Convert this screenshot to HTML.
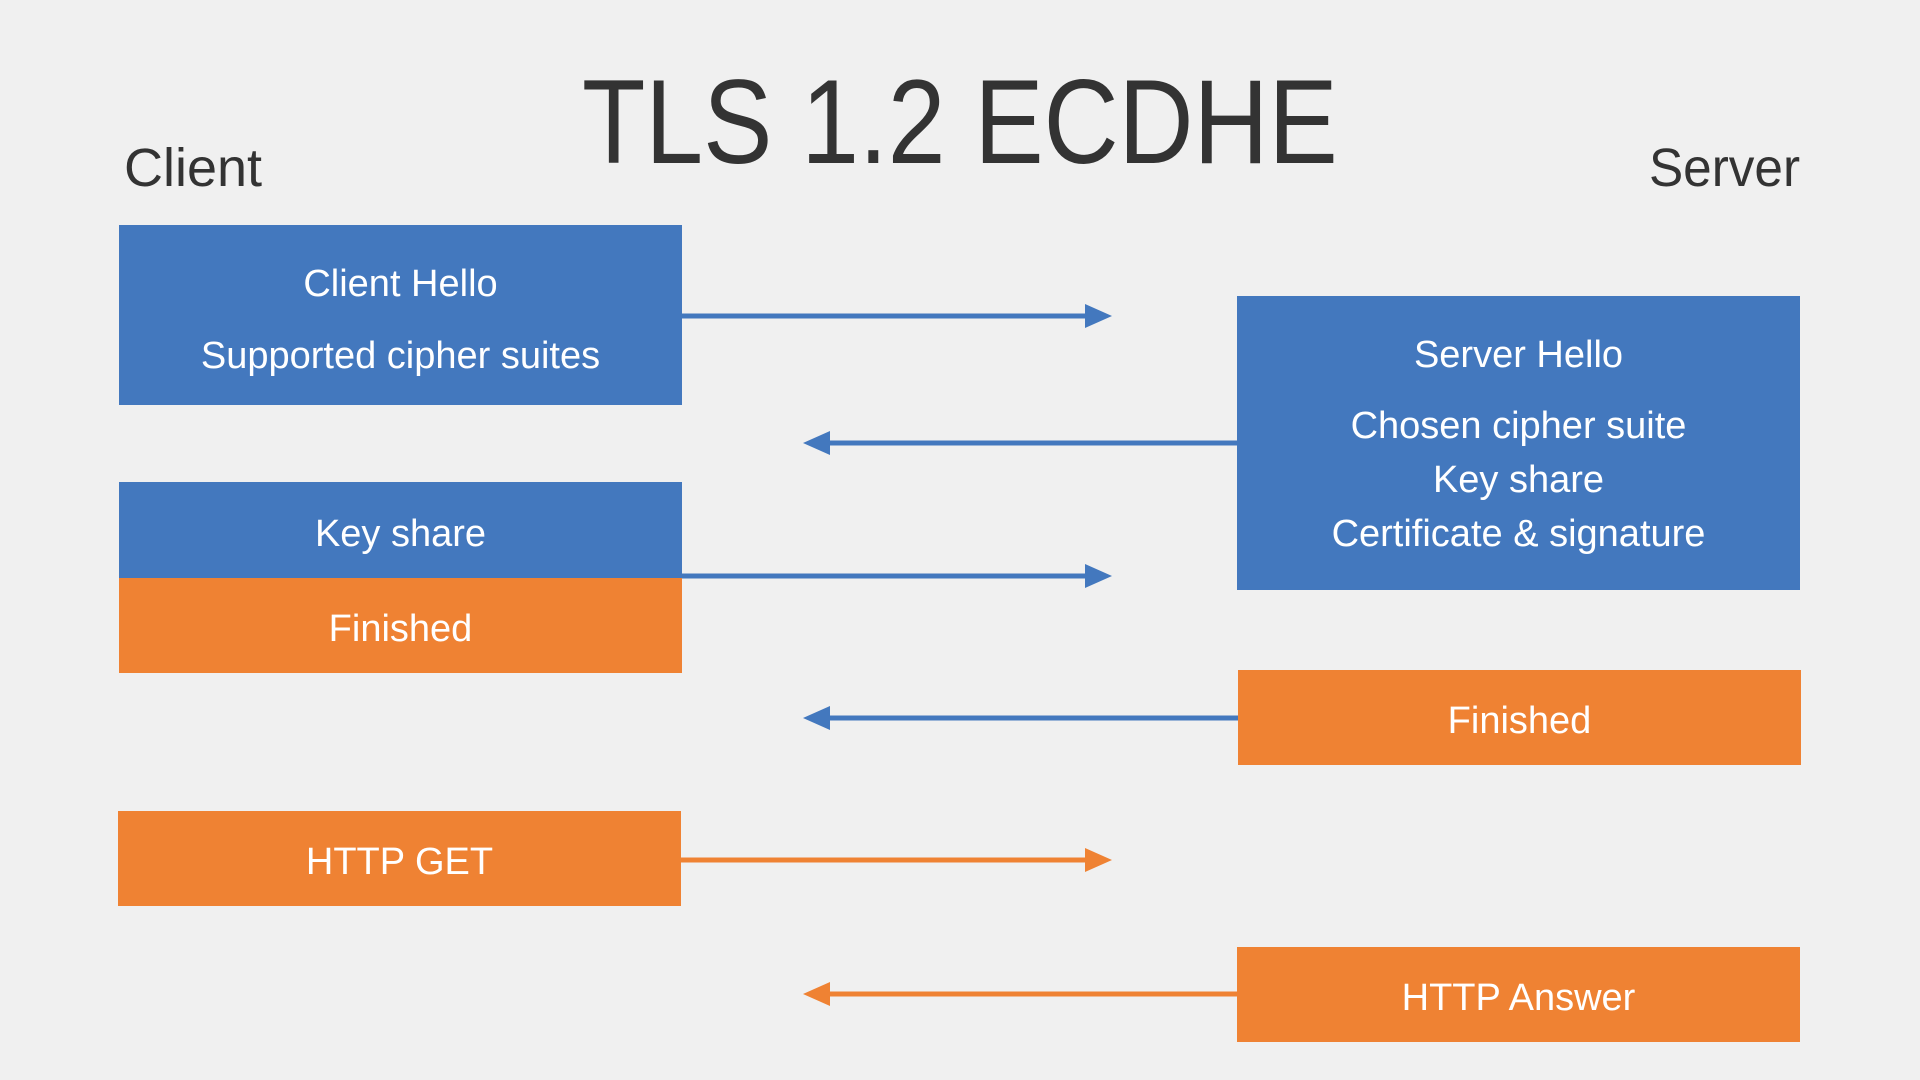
<!DOCTYPE html>
<html><head><meta charset="utf-8"><style>
html,body{margin:0;padding:0;}
body{width:1920px;height:1080px;background:#f0f0f0;position:relative;overflow:hidden;font-family:"Liberation Sans",sans-serif;}
.t{position:absolute;color:#333;white-space:nowrap;}
.b{position:absolute;color:#fff;}
.blue{background:#4378be;}
.or{background:#ef8233;}
.l{position:absolute;left:0;right:0;text-align:center;font-size:38px;line-height:40px;color:#fff;}
</style></head><body>
<div class="t" style="left:582px;top:52px;font-size:120px;line-height:140px;transform:scaleX(0.865);transform-origin:0 0;">TLS 1.2 ECDHE</div>
<div class="t" style="left:124px;top:136px;font-size:54px;line-height:64px;">Client</div>
<div class="t" style="right:120px;top:136px;font-size:54px;line-height:64px;transform:scaleX(0.95);transform-origin:100% 0;">Server</div>

<div class="b blue" style="left:119px;top:225px;width:563px;height:180px;">
 <div class="l" style="top:39px;">Client Hello</div>
 <div class="l" style="top:111px;">Supported cipher suites</div>
</div>
<div class="b blue" style="left:119px;top:482px;width:563px;height:96px;">
 <div class="l" style="top:32px;">Key share</div>
</div>
<div class="b or" style="left:119px;top:578px;width:563px;height:95px;">
 <div class="l" style="top:31px;">Finished</div>
</div>
<div class="b or" style="left:118px;top:811px;width:563px;height:95px;">
 <div class="l" style="top:31px;">HTTP GET</div>
</div>

<div class="b blue" style="left:1237px;top:296px;width:563px;height:294px;">
 <div class="l" style="top:39px;">Server Hello</div>
 <div class="l" style="top:110px;">Chosen cipher suite</div>
 <div class="l" style="top:164px;">Key share</div>
 <div class="l" style="top:218px;">Certificate &amp; signature</div>
</div>
<div class="b or" style="left:1238px;top:670px;width:563px;height:95px;">
 <div class="l" style="top:31px;">Finished</div>
</div>
<div class="b or" style="left:1237px;top:947px;width:563px;height:95px;">
 <div class="l" style="top:31px;">HTTP Answer</div>
</div>

<svg width="1920" height="1080" style="position:absolute;left:0;top:0;">
 <g stroke-width="5">
  <line x1="682" y1="316" x2="1090" y2="316" stroke="#4378be"/>
  <polygon points="1112,316 1085,304 1085,328" fill="#4378be"/>
  <line x1="1237" y1="443" x2="825" y2="443" stroke="#4378be"/>
  <polygon points="803,443 830,431 830,455" fill="#4378be"/>
  <line x1="682" y1="576" x2="1090" y2="576" stroke="#4378be"/>
  <polygon points="1112,576 1085,564 1085,588" fill="#4378be"/>
  <line x1="1238" y1="718" x2="825" y2="718" stroke="#4378be"/>
  <polygon points="803,718 830,706 830,730" fill="#4378be"/>
  <line x1="681" y1="860" x2="1090" y2="860" stroke="#ef8233"/>
  <polygon points="1112,860 1085,848 1085,872" fill="#ef8233"/>
  <line x1="1237" y1="994" x2="825" y2="994" stroke="#ef8233"/>
  <polygon points="803,994 830,982 830,1006" fill="#ef8233"/>
 </g>
</svg>
</body></html>
